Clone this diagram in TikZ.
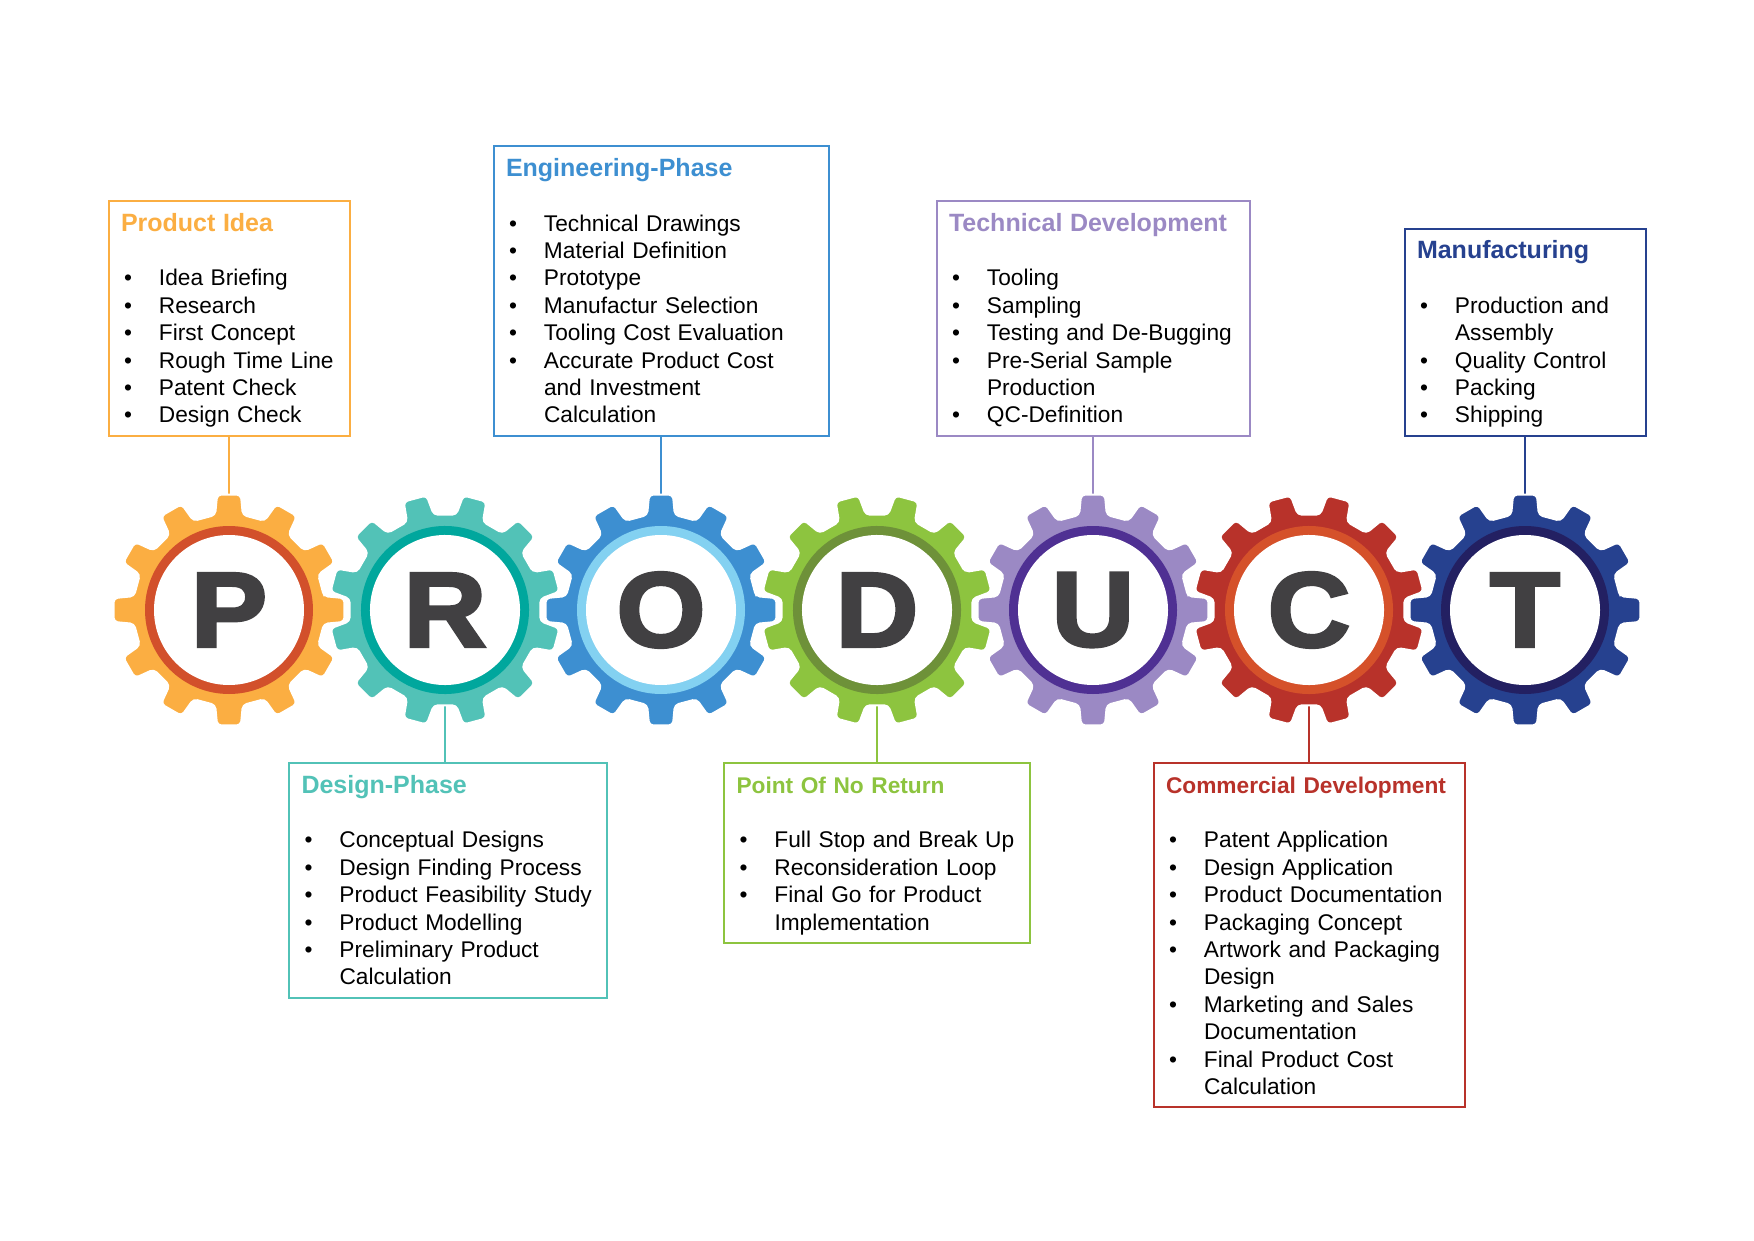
\documentclass[tikz,border=0pt]{standalone}
\usepackage{fontspec}
\setmainfont{Liberation Sans}
\newfontfamily\letterfont{Liberation Sans Bold}[FakeStretch=1.08,FakeBold=3]
\usetikzlibrary{positioning}

\definecolor{ideaOrange}{HTML}{FBAE42}
\definecolor{ideaRing}{HTML}{D2502B}
\definecolor{designTeal}{HTML}{52C2B7}
\definecolor{designRing}{HTML}{00A79D}
\definecolor{engBlue}{HTML}{3D8FD1}
\definecolor{engRing}{HTML}{83D1F1}
\definecolor{pointGreen}{HTML}{8DC43F}
\definecolor{pointRing}{HTML}{6E9139}
\definecolor{techLilac}{HTML}{9B89C4}
\definecolor{techRing}{HTML}{4F3093}
\definecolor{commRed}{HTML}{B8322A}
\definecolor{commRing}{HTML}{D5512A}
\definecolor{manuNavy}{HTML}{26418F}
\definecolor{manuRing}{HTML}{232062}
\definecolor{letterGray}{HTML}{414042}

% title line of a phase box, optional title size
\newcommand{\head}[3][25pt]{\rule{0pt}{30pt}\mbox{\fontsize{#1}{27.4pt}\selectfont\bfseries\color{#2}#3}\par\vspace{27.4pt}}
\newcommand{\bul}{\textbullet &}
\newenvironment{steps}{\begin{tabular}[t]{@{\hspace{3pt}}p{35pt}@{}l@{}}}{\rule[-13pt]{0pt}{13pt}\end{tabular}}

\tikzset{
    phase/.style={draw=#1, line width=2pt, fill=white, inner xsep=12.5pt, inner ysep=0pt,
        align=left, font=\fontsize{22.7pt}{27.4pt}\selectfont},
    link/.style={draw=#1, line width=2pt},
    letter/.style={font=\letterfont\fontsize{106pt}{106pt}\selectfont, text=letterGray, inner sep=0pt}
}

\begin{document}
\begin{tikzpicture}[x=1pt, y=-1pt]
    \useasboundingbox (0,0) rectangle (1754,1241);

    % gear centres
    \foreach \l [count=\i from 0] in {P,R,O,D,U,C,T}
        \coordinate (c\l) at (229+216*\i, 610);

    % phase boxes
    \node[phase=ideaOrange, text width=216pt, above=173pt of cP] (idea) {\head{ideaOrange}{Product Idea}
        \begin{steps}
        \bul Idea Briefing\\
        \bul Research\\
        \bul First Concept\\
        \bul Rough Time Line\\
        \bul Patent Check\\
        \bul Design Check
        \end{steps}};
    \node[phase=engBlue, text width=310pt, above=173pt of cO] (eng) {\head{engBlue}{Engineering-Phase}
        \begin{steps}
        \bul Technical Drawings\\
        \bul Material Definition\\
        \bul Prototype\\
        \bul Manufactur Selection\\
        \bul Tooling Cost Evaluation\\
        \bul Accurate Product Cost\\
        & and Investment\\
        & Calculation
        \end{steps}};
    \node[phase=techLilac, text width=288pt, above=173pt of cU] (tech) {\head{techLilac}{Technical Development}
        \begin{steps}
        \bul Tooling\\
        \bul Sampling\\
        \bul Testing and De-Bugging\\
        \bul Pre-Serial Sample\\
        & Production\\
        \bul QC-Definition
        \end{steps}};
    \node[phase=manuNavy, text width=216pt, above=173pt of cT] (manu) {\head{manuNavy}{Manufacturing}
        \begin{steps}
        \bul Production and\\
        & Assembly\\
        \bul Quality Control\\
        \bul Packing\\
        \bul Shipping
        \end{steps}};
    \node[phase=designTeal, text width=293pt, below=152pt of cR, xshift=3pt] (design) {\head{designTeal}{Design-Phase}
        \begin{steps}
        \bul Conceptual Designs\\
        \bul Design Finding Process\\
        \bul Product Feasibility Study\\
        \bul Product Modelling\\
        \bul Preliminary Product\\
        & Calculation
        \end{steps}};
    \node[phase=pointGreen, text width=281pt, below=152pt of cD] (point) {\head[22.7pt]{pointGreen}{Point Of No Return}
        \begin{steps}
        \bul Full Stop and Break Up\\
        \bul Reconsideration Loop\\
        \bul Final Go for Product\\
        & Implementation
        \end{steps}};
    \node[phase=commRed, text width=286pt, below=152pt of cC] (comm) {\head[22.7pt]{commRed}{Commercial Development}
        \begin{steps}
        \bul Patent Application\\
        \bul Design Application\\
        \bul Product Documentation\\
        \bul Packaging Concept\\
        \bul Artwork and Packaging\\
        & Design\\
        \bul Marketing and Sales\\
        & Documentation\\
        \bul Final Product Cost\\
        & Calculation
        \end{steps}};

    % connectors
    \draw[link=ideaOrange] (idea) -- (cP);
    \draw[link=designTeal] (design.north -| cR) -- (cR);
    \draw[link=engBlue] (eng) -- (cO);
    \draw[link=pointGreen] (point) -- (cD);
    \draw[link=techLilac] (tech) -- (cU);
    \draw[link=commRed] (comm) -- (cC);
    \draw[link=manuNavy] (manu) -- (cT);

    % gears
    \foreach \l/\body/\ring/\rot in {P/ideaOrange/ideaRing/0, R/designTeal/designRing/15,
            O/engBlue/engRing/0, D/pointGreen/pointRing/15, U/techLilac/techRing/0,
            C/commRed/commRing/15, T/manuNavy/manuRing/0} {
        \begin{scope}[shift={(c\l)}, rotate=\rot]
            \filldraw[fill=\body, draw=white, line width=2pt, rounded corners=4pt] (-8.3:96)
                \foreach \a in {0,30,...,330} {
                    -- (\a-5.9:116) -- (\a+5.9:116) -- (\a+8.3:96) -- (\a+21.7:96)
                } -- cycle;
            \fill[\ring] (0,0) circle (84);
            \fill[white] (0,0) circle (75);
        \end{scope}
        \node[letter] (\l) at (c\l) {\l};
    }
\end{tikzpicture}
\end{document}
